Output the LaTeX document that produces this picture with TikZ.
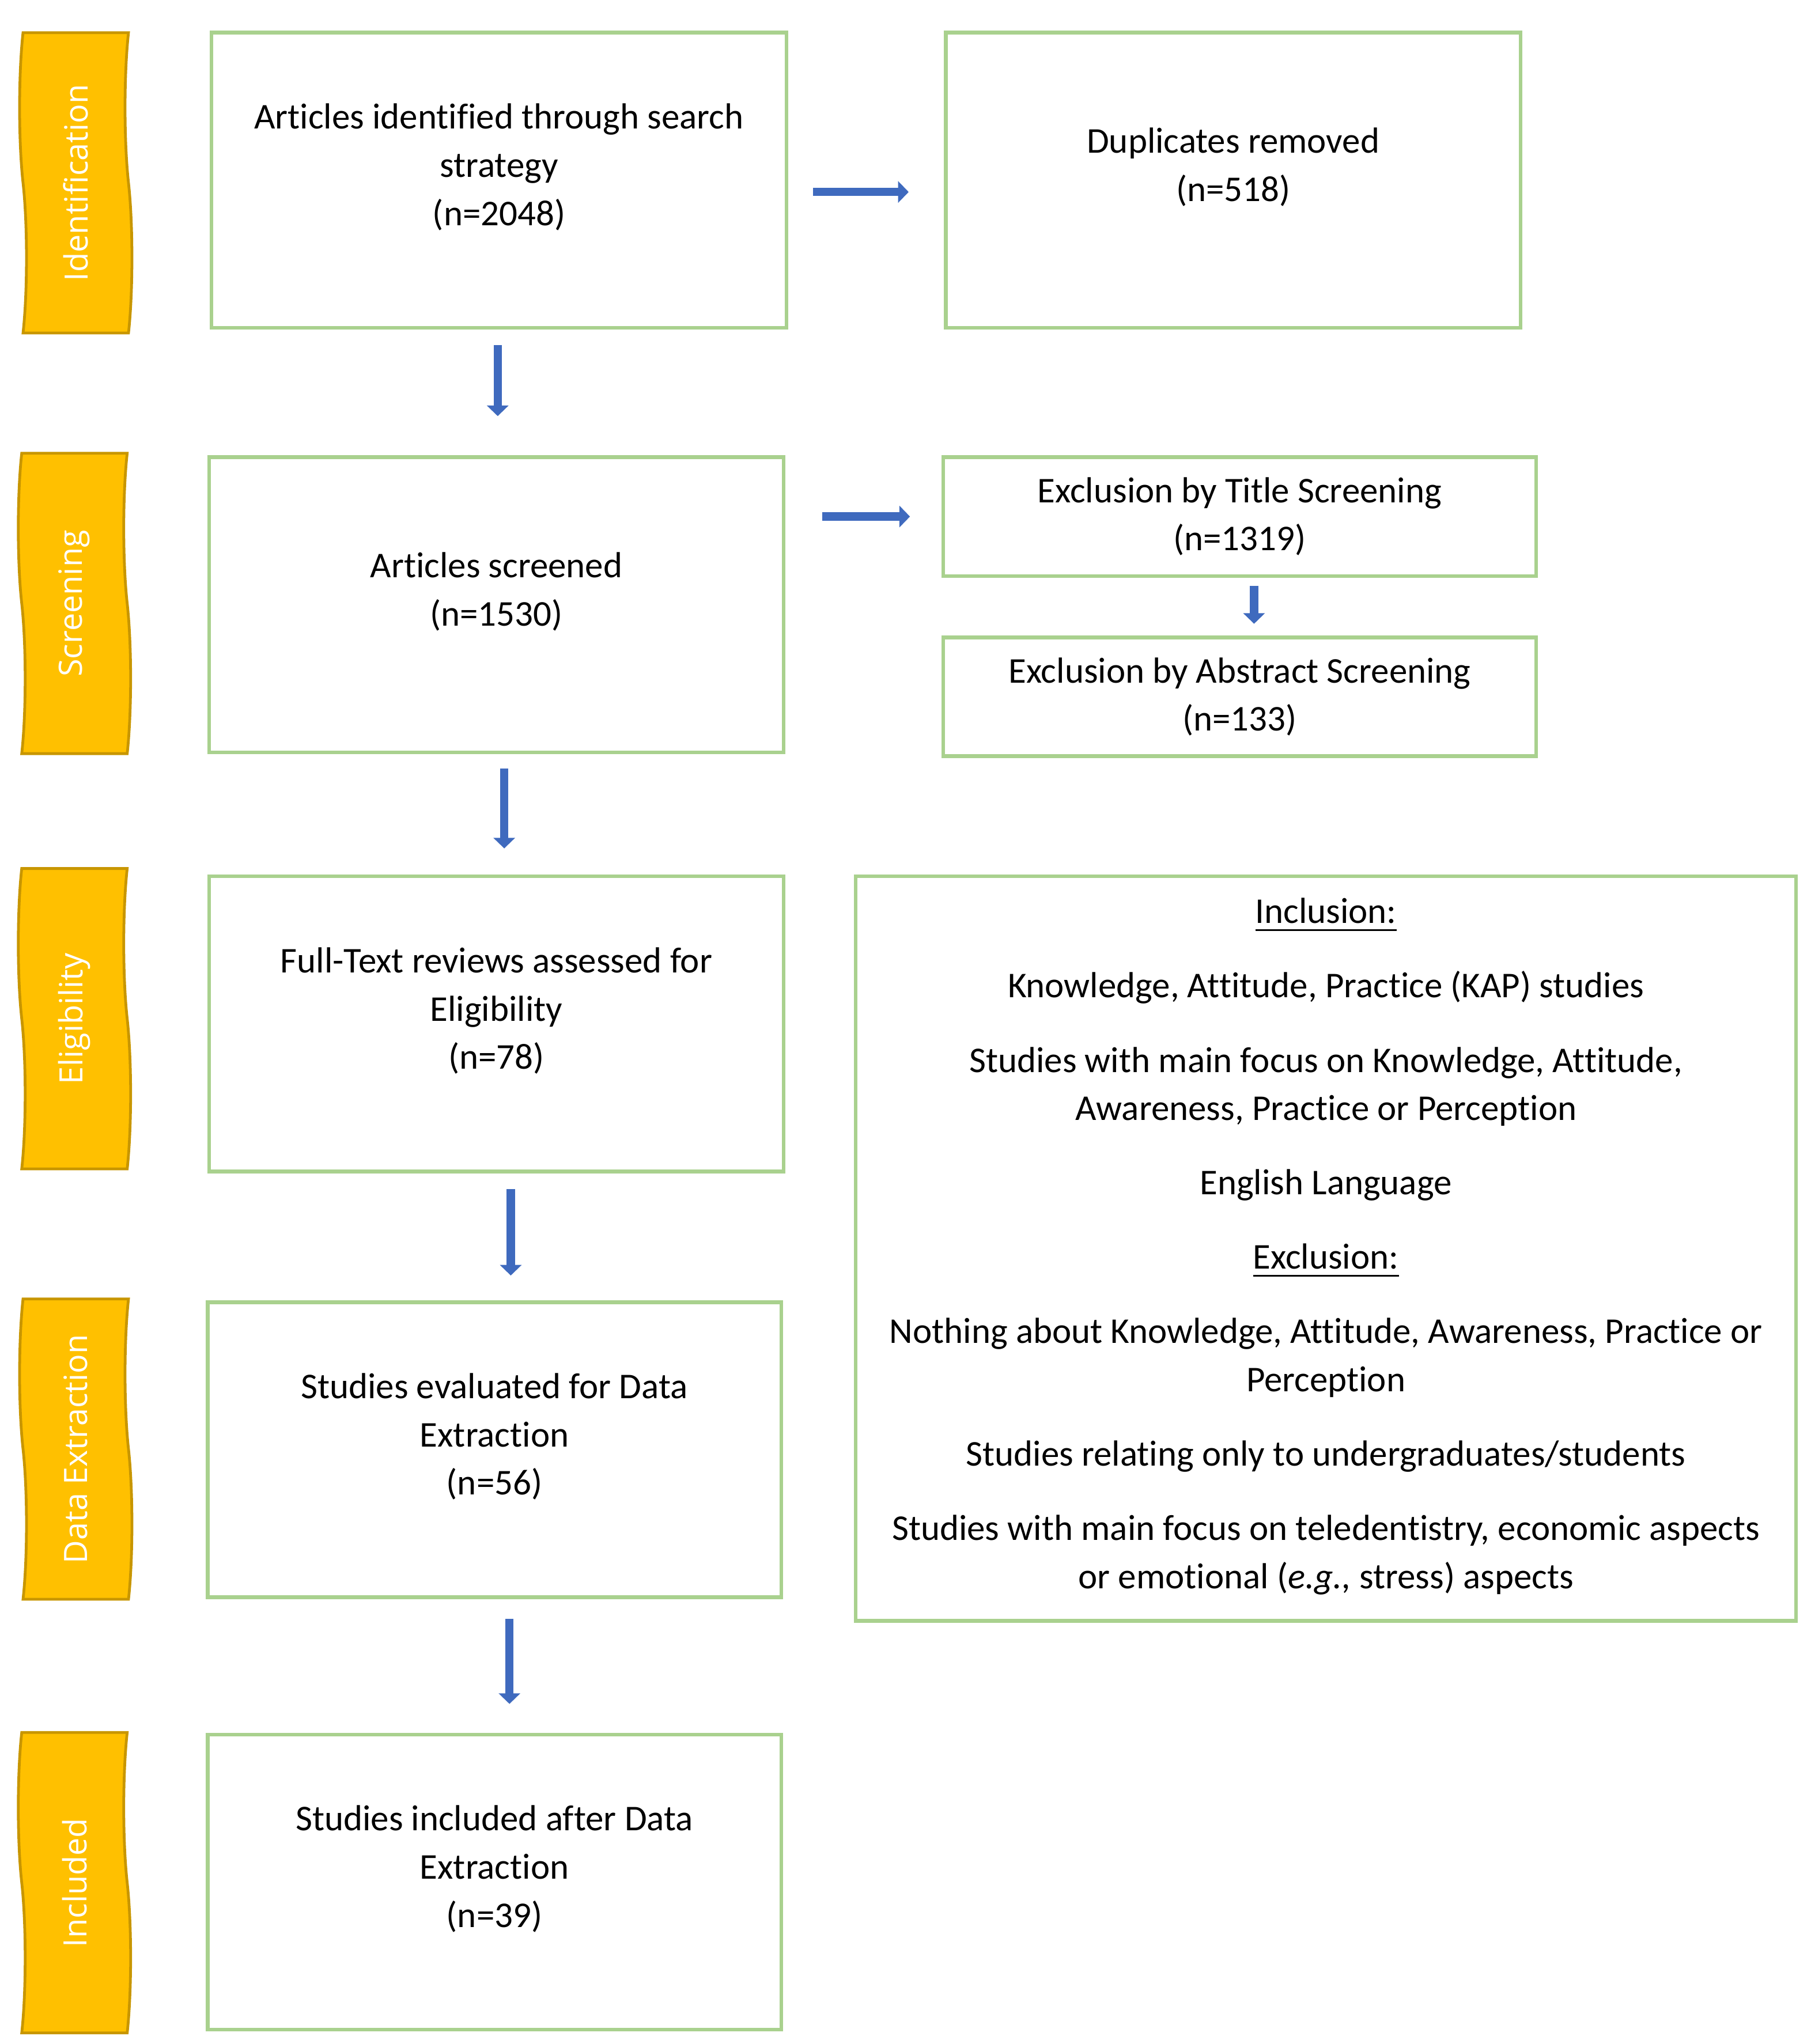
\documentclass[tikz,border=0pt]{standalone}
\usepackage{fontspec}
\setmainfont{Carlito}[Ligatures = NoCommon]
\newfontfamily\bandfont{Open Sans}
\usetikzlibrary{arrows.meta, shapes.symbols}
\definecolor{boxgreen}{RGB}{169,209,142}
\definecolor{arrowblue}{RGB}{63,106,190}
\definecolor{bandgold}{RGB}{255,192,0}
\definecolor{bandedge}{RGB}{200,150,0}

\begin{document}
\begin{tikzpicture}[
	stagebox/.style = {draw = boxgreen, line width = 0.8pt, inner sep = 0pt, minimum width = 4.40cm, minimum height = 2.26cm, align = center, font = \fontsize{7.9}{10.5}\selectfont},
	tallbox/.style = {stagebox, text depth = 0.24cm},
	flatbox/.style = {stagebox, minimum width = 4.54cm, minimum height = 0.91cm},
	band/.style = {tape, rotate = 90, draw = bandedge, fill = bandgold, line width = 0.6pt, minimum width = 2.30cm, minimum height = 0.86cm, inner sep = 0pt, tape bend height = 1.5pt, text = white, font = \bandfont\fontsize{7}{8}\selectfont},
	flow/.style = {arrowblue, line width = 1.8pt, -{Triangle[width = 4.6pt, length = 2.3pt]}}
	]
	\useasboundingbox (0,0) rectangle (13.86,-15.65);

	\node [band] (idband) at (0.58,-1.40) {Identification};
	\node [band] (scrband) at (0.57,-4.62) {Screening};
	\node [band] (eliband) at (0.57,-7.80) {Eligibility};
	\node [band] (dexband) at (0.58,-11.095) {Data Extraction};
	\node [band] (incband) at (0.57,-14.415) {Included};

	\node [tallbox] (idbox) at (3.82,-1.38) {Articles identified through search\\strategy\\(n=2048)};
	\node [tallbox] (scrbox) at (3.80,-4.63) {Articles screened\\(n=1530)};
	\node [tallbox] (elibox) at (3.80,-7.84) {Full-Text reviews assessed for\\Eligibility\\(n=78)};
	\node [tallbox, minimum width = 4.39cm] (dexbox) at (3.785,-11.10) {Studies evaluated for Data\\Extraction\\(n=56)};
	\node [tallbox, minimum width = 4.39cm] (incbox) at (3.785,-14.41) {Studies included after Data\\Extraction\\(n=39)};

	\node [tallbox] (dupbox) at (9.44,-1.38) {Duplicates removed\\(n=518)};
	\node [flatbox] (titlebox) at (9.49,-3.955) {Exclusion by Title Screening\\(n=1319)};
	\node [flatbox] (absbox) at (9.49,-5.335) {Exclusion by Abstract Screening\\(n=133)};

	\node [stagebox, minimum width = 7.20cm, minimum height = 5.70cm, text depth = 0.08cm] (critbox) at (10.15,-9.56) {\underline{Inclusion:}\\[5.7pt]
		Knowledge, Attitude, Practice (KAP) studies\\[5.7pt]
		Studies with main focus on Knowledge, Attitude,\\Awareness, Practice or Perception\\[5.7pt]
		English Language\\[5.7pt]
		\underline{Exclusion:}\\[5.7pt]
		Nothing about Knowledge, Attitude, Awareness, Practice or\\Perception\\[5.7pt]
		Studies relating only to undergraduates/students\\[5.7pt]
		Studies with main focus on teledentistry, economic aspects\\or emotional (\textit{e.g.,} stress) aspects};

	\draw [flow, shorten < = 0.12cm, shorten > = 0.30cm] ([xshift = -0.01cm]idbox.south) -- ([xshift = -0.01cm]idbox.south |- scrbox.north);
	\draw [flow, shorten < = 0.11cm, shorten > = 0.20cm] ([xshift = 0.06cm]scrbox.south) -- ([xshift = 0.06cm]scrbox.south |- elibox.north);
	\draw [flow, shorten < = 0.12cm, shorten > = 0.19cm] ([xshift = 0.11cm]elibox.south) -- ([xshift = 0.11cm]elibox.south |- dexbox.north);
	\draw [flow, shorten < = 0.15cm, shorten > = 0.22cm] ([xshift = 0.115cm]dexbox.south) -- ([xshift = 0.115cm]incbox.north);

	\draw [flow, shorten < = 0.19cm, shorten > = 0.27cm] ([yshift = -0.09cm]idbox.east) -- ([yshift = -0.09cm]dupbox.west);
	\draw [flow, shorten < = 0.28cm, shorten > = 0.24cm] (scrbox.east |- titlebox.west) -- (titlebox.west);
	\draw [flow, shorten < = 0.06cm, shorten > = 0.09cm] ([xshift = 0.11cm]titlebox.south) -- ([xshift = 0.11cm]absbox.north);
\end{tikzpicture}
\end{document}
